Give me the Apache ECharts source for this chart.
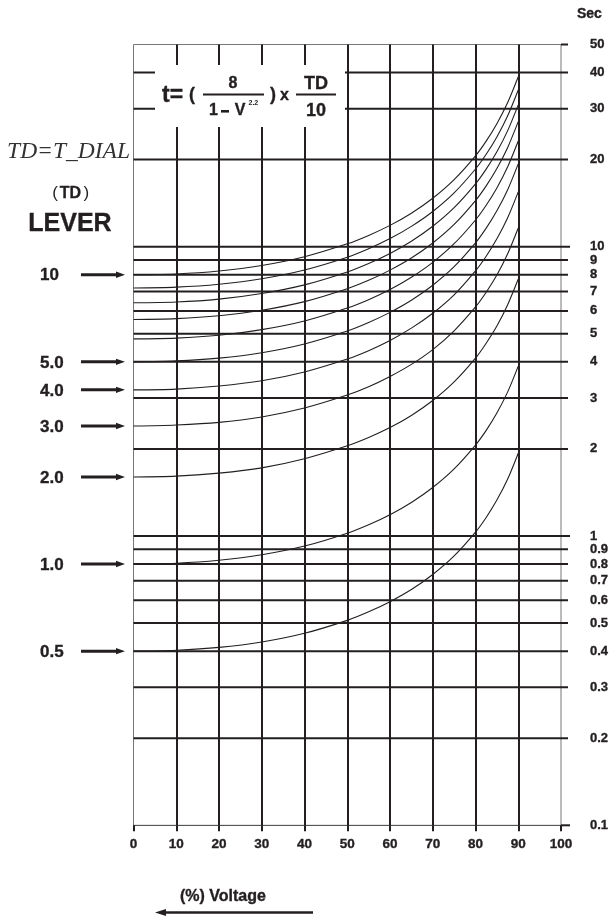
<!DOCTYPE html>
<html><head><meta charset="utf-8">
<script src="https://cdn.jsdelivr.net/npm/echarts@6/dist/echarts.min.js"></script>
<style>html,body{margin:0;padding:0;background:#fff}#c{width:611px;height:917px}</style>
</head><body><div id="c"></div>
<script>
// % voltage sample points
const voltage = [0, 10, 20, 30, 40, 50, 55, 60, 65, 70, 75, 80, 82.5, 85, 87.5, 90];
// operating time (sec) per lever (TD) setting
const td10  = [8.0, 8.05, 8.24, 8.61, 9.23, 10.23, 10.94, 11.85, 13.06, 14.71, 17.06, 20.62, 23.18, 26.62, 31.43, 38.67];
const td9   = [7.2, 7.25, 7.42, 7.75, 8.31, 9.20, 9.84, 10.67, 11.76, 13.24, 15.35, 18.56, 20.87, 23.95, 28.29, 34.80];
const td8   = [6.4, 6.44, 6.59, 6.89, 7.38, 8.18, 8.75, 9.48, 10.45, 11.77, 13.65, 16.50, 18.55, 21.29, 25.14, 30.93];
const td7   = [5.6, 5.64, 5.77, 6.03, 6.46, 7.16, 7.65, 8.30, 9.14, 10.30, 11.94, 14.44, 16.23, 18.63, 22.00, 27.07];
const td6   = [4.8, 4.83, 4.94, 5.17, 5.54, 6.14, 6.56, 7.11, 7.84, 8.83, 10.24, 12.37, 13.91, 15.97, 18.86, 23.20];
const td5   = [4.0, 4.03, 4.12, 4.30, 4.61, 5.11, 5.47, 5.93, 6.53, 7.36, 8.53, 10.31, 11.59, 13.31, 15.71, 19.33];
const td4   = [3.2, 3.22, 3.30, 3.44, 3.69, 4.09, 4.37, 4.74, 5.23, 5.89, 6.82, 8.25, 9.27, 10.65, 12.57, 15.47];
const td3   = [2.4, 2.42, 2.47, 2.58, 2.77, 3.07, 3.28, 3.56, 3.92, 4.41, 5.12, 6.19, 6.96, 7.98, 9.43, 11.60];
const td2   = [1.6, 1.61, 1.65, 1.72, 1.85, 2.05, 2.19, 2.37, 2.61, 2.94, 3.41, 4.12, 4.64, 5.32, 6.29, 7.73];
const td1   = [0.8, 0.805, 0.824, 0.861, 0.923, 1.023, 1.094, 1.185, 1.306, 1.471, 1.706, 2.062, 2.318, 2.662, 3.143, 3.867];
const td05  = [0.4, 0.403, 0.412, 0.430, 0.461, 0.511, 0.547, 0.593, 0.653, 0.736, 0.853, 1.031, 1.159, 1.331, 1.571, 1.933];
const curves = [td10, td9, td8, td7, td6, td5, td4, td3, td2, td1, td05];

// right-hand time scale
const yTicks = [50, 40, 30, 20, 10, 9, 8, 7, 6, 5, 4, 3, 2, 1, 0.9, 0.8, 0.7, 0.6, 0.5, 0.4, 0.3, 0.2, 0.1];
const yTickLabels = ['50','40','30','20','10','9','8','7','6','5','4','3','2','1','0.9','0.8','0.7','0.6','0.5','0.4','0.3','0.2','0.1'];
// lever markers on the left (label, time at 0 % voltage)
const leverLabels = ['10', '5.0', '4.0', '3.0', '2.0', '1.0', '0.5'];
const leverStart  = [8, 4, 3.2, 2.4, 1.6, 0.8, 0.4];

const INK = '#231f20';
const FONT = "'Liberation Sans', Arial, Helvetica, sans-serif";
const B = {stroke: INK, lineWidth: 0.35};

const chart = echarts.init(document.getElementById('c'), null, {renderer: 'canvas'});

const curveSeries = curves.map(arr => ({
  type: 'line',
  data: voltage.map((v, i) => [v, arr[i]]),
  showSymbol: false,
  smooth: 0.3,
  silent: true,
  z: 4,
  lineStyle: {color: INK, width: 1.1}
}));

const gridSeries = {
  type: 'custom',
  silent: true,
  z: 3,
  encode: {x: 0, y: 1},
  data: yTicks.map(v => [0, v]),
  renderItem: function (params, api) {
    const v = api.value(1);
    const p0 = api.coord([0, v]);
    const p1 = api.coord([100, v]);
    const isDecade = (v === 10 || v === 1 || v === 0.1);
    const ext = isDecade ? 9 : 7;
    const children = [];
    const startX = (v === 50 || v === 0.1) ? p1[0] : p0[0];
    children.push({type: 'line', shape: {x1: startX, y1: p0[1], x2: p1[0] + ext, y2: p1[1]},
      style: {stroke: INK, lineWidth: 2}});
    children.push({type: 'text', style: Object.assign({text: yTickLabels[params.dataIndex], x: p1[0] + 29, y: p1[1],
      font: 'bold 13px ' + FONT, fill: INK, align: 'left', verticalAlign: 'middle'}, B)});
    return {type: 'group', children: children};
  }
};

const leverSeries = {
  type: 'custom',
  silent: true,
  z: 5,
  encode: {x: 0, y: 1},
  data: leverStart.map(v => [0, v]),
  renderItem: function (params, api) {
    const p = api.coord([0, api.value(1)]);
    const tip = p[0] - 8.5;
    return {type: 'group', children: [
      {type: 'line', shape: {x1: p[0] - 52.5, y1: p[1], x2: tip - 7, y2: p[1]}, style: {stroke: INK, lineWidth: 3}},
      {type: 'polygon', shape: {points: [[tip, p[1]], [tip - 9, p[1] - 3.2], [tip - 9, p[1] + 3.2]]}, style: {fill: INK}},
      {type: 'text', style: Object.assign({text: leverLabels[params.dataIndex], x: p[0] - 93.5, y: p[1] + 1,
        font: 'bold 17px ' + FONT, fill: INK, align: 'left', verticalAlign: 'middle'}, B)}
    ]};
  }
};

function txt(text, x, y, font, align, extra) {
  return {type: 'text', z: 101, style: Object.assign({text: text, x: x, y: y, font: font, fill: INK,
    align: align || 'left', verticalAlign: 'middle'}, extra || B)};
}

const graphics = [
  // formula box
  {type: 'rect', z: 100, shape: {x: 155, y: 65, width: 190, height: 62}, style: {fill: '#fff'}},
  txt('t=', 162, 96, 'bold 23px ' + FONT),
  txt('(', 189, 95, 'bold 18px ' + FONT),
  {type: 'line', z: 101, shape: {x1: 203, y1: 94.5, x2: 264, y2: 94.5}, style: {stroke: INK, lineWidth: 2.2}},
  txt('8', 233, 84, 'bold 16px ' + FONT, 'center'),
  txt('1', 213.5, 111, 'bold 16px ' + FONT, 'center'),
  {type: 'rect', z: 101, shape: {x: 221, y: 110, width: 8, height: 2.6}, style: {fill: INK}},
  txt('V', 240, 111, 'bold 16px ' + FONT, 'center'),
  txt('2.2', 248.5, 103, 'bold 7px ' + FONT, 'left', {}),
  txt(')', 270, 95, 'bold 18px ' + FONT),
  txt('x', 280, 96, 'bold 16px ' + FONT),
  {type: 'line', z: 101, shape: {x1: 296, y1: 94.5, x2: 336, y2: 94.5}, style: {stroke: INK, lineWidth: 2.2}},
  txt('TD', 316, 84, 'bold 18px ' + FONT, 'center'),
  txt('10', 316, 111, 'bold 18px ' + FONT, 'center'),
  // left titles
  {type: 'text', z: 101, style: {text: 'TD=T_DIAL', x: 130, y: 152, font: 'italic 23.5px "Liberation Serif", "Times New Roman", serif', fill: '#333', align: 'right', verticalAlign: 'middle'}},
  txt('(', 58, 193, '17px ' + FONT, 'right', {}),
  txt('TD', 70.5, 194, 'bold 16px ' + FONT, 'center'),
  txt(')', 83.5, 193, '17px ' + FONT, 'left', {}),
  txt('LEVER', 70, 224, 'bold 25px ' + FONT, 'center'),
  // right unit
  txt('Sec', 577, 14, 'bold 14px ' + FONT),
  // bottom label and arrow
  txt('(%) Voltage', 180, 897, 'bold 16px ' + FONT),
  {type: 'line', z: 101, shape: {x1: 313, y1: 912.5, x2: 163, y2: 912.5}, style: {stroke: INK, lineWidth: 2.5}},
  {type: 'polygon', z: 101, shape: {points: [[155, 912.5], [166, 909], [166, 916]]}, style: {fill: INK}}
];

chart.setOption({
  animation: false,
  backgroundColor: '#fff',
  grid: {left: 133.5, right: 50, top: 44.5, bottom: 91.7, show: true, borderColor: '#777', borderWidth: 1, backgroundColor: 'transparent'},
  xAxis: {
    type: 'value', min: 0, max: 100, interval: 10,
    axisLine: {show: true, lineStyle: {color: '#555', width: 1}},
    axisTick: {show: true, length: 6, lineStyle: {color: INK, width: 2}},
    axisLabel: {show: true, margin: 12, color: INK, fontWeight: 'bold', fontSize: 13.5, fontFamily: FONT,
      textBorderColor: INK, textBorderWidth: 0.35},
    splitLine: {show: true, showMinLine: false, showMaxLine: false, lineStyle: {color: INK, width: 2}}
  },
  yAxis: {
    type: 'log', logBase: 10, min: 0.1, max: 50,
    axisLine: {show: false}, axisTick: {show: false}, axisLabel: {show: false}, splitLine: {show: false}
  },
  graphic: graphics,
  series: [gridSeries].concat(curveSeries).concat([leverSeries])
});
</script>
</body></html>
